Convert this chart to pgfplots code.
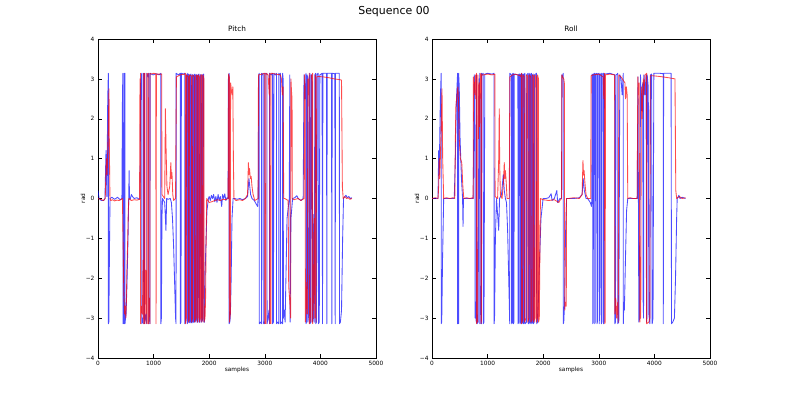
\documentclass[border=0pt]{standalone}
\usepackage{fontspec}
\setmainfont{DejaVu Sans}
\usepackage{pgfplots}
\pgfplotsset{compat=1.18}

\pgfplotsset{
  seqax/.style={
    anchor=south west, scale only axis,
    width=9.73cm, height=11.165cm,
    xmin=0, xmax=5000, ymin=-4, ymax=4,
    xtick={0,1000,2000,3000,4000,5000},
    xticklabels={0,1000,2000,3000,4000,5000},
    ytick={-4,-3,-2,-1,0,1,2,3,4},
    yticklabels={−4,−3,−2,−1,0,1,2,3,4},
    tick align=inside, major tick length=0.14cm,
    every tick/.style={black, line width=0.5pt},
    axis line style={line width=0.6pt},
    tick label style={font=\fontsize{5.8}{6}\selectfont},
    label style={font=\fontsize{5.8}{6}\selectfont},
    title style={font=\fontsize{7.3}{8}\selectfont, at={(axis description cs:0.5,1.0125)}, anchor=center},
    xlabel style={at={(axis description cs:0.5,-0.0376)}, anchor=center},
    ylabel style={at={(axis description cs:-0.054,0.5)}, anchor=center},
    xlabel=samples, ylabel=rad,
  },
  redl/.style={red, line width=0.85pt, opacity=0.7, line join=round},
  bluel/.style={blue, line width=0.85pt, opacity=0.7, line join=round},
}

\begin{document}
\begin{tikzpicture}
\path[use as bounding box] (0,0) rectangle (27.615cm,13.93cm);
\node[font=\fontsize{10.9}{13}\selectfont] at (13.79cm,13.51cm) {Sequence 00};

% ---------------- Pitch ----------------
\begin{axis}[seqax, at={(3.43cm,1.4cm)}, title=Pitch]
\addplot[bluel] coordinates {
(0,0.2)(20,0.0)(60,-0.05)(100,-0.05)(125,0.0)(144,1.2)(160,0.05)(175,2.5)(186,3.14)(187,-3.14)(195,-3.1)(205,-1.5)(216,0.0)(250,0.03)(300,-0.02)(350,0.03)(400,-0.03)(430,0.0)
(440,2.6)(448,3.14)(449,-3.14)(462,-3.0)(470,-3.14)(471,3.14)(476,2.4)(480,2.6)(485,3.14)(486,-3.14)(495,-3.0)(505,-2.9)(520,-2.2)(540,-1.0)(552,0.0)(560,0.7)(566,0.0)(580,-0.02)(600,0.1)(620,0.05)(650,0.0)(700,0.02)(740,-0.02)(755,0.0)
(768,3.0)(775,2.5)(782,3.0)(786,3.14)(787,-3.14)(800,-3.0)(815,-3.14)(816,3.14)(825,3.0)(830,2.3)(836,3.14)(837,-3.14)(860,-2.9)(876,-3.14)(877,3.14)(900,3.05)(912,3.14)(913,-3.14)(925,-2.5)(936,-3.14)(937,3.14)(990,3.1)(1050,3.13)(1100,3.1)(1130,3.14)(1131,-3.14)(1140,-3.0)(1150,-0.5)(1160,0.0)(1180,-0.05)(1200,-0.1)(1222,-0.8)(1235,0.0)(1260,-0.02)(1300,0.0)(1320,-0.1)(1340,-0.5)(1360,-1.2)(1380,-2.2)(1395,-3.0)(1404,-3.14)
(1405,3.14)(1450,3.1)(1480,3.14)(1481,-3.14)(1492,-3.1)(1500,3.14)(1540,3.12)(1560,3.14)(1561,-3.14)(1575,-3.1)(1588,3.1)(1595,0.3)(1600,0.8)(1605,3.14)(1606,-3.14)(1620,-3.1)(1625,3.12)(1640,3.1)(1643,-3.1)(1655,-3.12)(1660,3.1)(1672,3.12)(1675,-3.1)(1690,-3.12)(1694,3.1)(1708,3.1)(1711,-3.1)(1725,-3.1)(1729,3.1)(1742,3.12)(1745,-3.1)(1760,-3.05)(1764,3.1)(1778,3.1)(1781,-3.1)(1795,-3.1)(1799,3.1)(1815,3.12)(1818,-3.1)(1835,-3.1)(1839,3.1)(1858,3.1)(1861,-3.1)(1878,-3.05)(1882,3.1)(1900,3.12)(1903,-3.1)(1915,-3.1)(1920,-2.5)(1926,-1.9)(1940,-1.2)(1960,-0.3)(1986,0.0)
(2000,0.05)(2020,-0.05)(2040,0.08)(2060,0.0)(2080,0.1)(2100,-0.08)(2120,0.05)(2140,-0.1)(2160,0.1)(2180,-0.05)(2200,0.05)(2225,-0.2)(2240,0.1)(2260,0.0)(2280,0.12)(2300,-0.05)(2320,0.02)(2340,0.0)
(2346,3.1)(2352,2.7)(2358,3.14)(2359,-3.14)(2370,-3.1)(2378,-3.0)(2385,-2.7)(2395,-2.0)(2410,-0.5)(2430,0.0)
(2460,0.0)(2500,-0.02)(2550,0.0)(2600,-0.03)(2650,0.0)(2690,0.05)(2715,0.5)(2730,0.3)(2745,0.1)(2770,0.0)(2810,-0.05)(2850,-0.15)(2870,-0.2)(2880,0.0)
(2890,3.1)(2900,3.14)(2901,-3.14)(2920,-3.1)(2940,-3.14)(2941,3.14)(2960,3.1)(2970,3.14)(2971,-3.14)(2985,-3.1)(3000,-3.14)(3001,3.14)(3030,3.12)(3040,3.14)(3041,-3.14)(3060,-3.0)(3075,-2.8)(3085,-3.14)(3086,3.14)(3120,3.1)(3140,3.14)(3141,-3.14)(3155,-3.1)(3165,3.14)(3190,3.1)(3210,3.14)(3211,-3.14)(3230,-3.1)(3250,-3.14)(3251,3.14)(3270,3.1)(3280,3.14)(3281,-3.14)(3300,-3.1)(3320,-3.14)(3321,3.14)(3330,3.0)(3335,-3.0)(3350,-2.8)(3365,-3.1)(3380,-2.0)(3400,-0.5)(3440,0.0)(3450,3.1)(3455,-3.1)(3470,-0.5)(3500,0.0)
(3540,0.02)(3576,0.07)(3600,0.0)(3650,-0.05)(3690,0.0)
(3705,3.1)(3715,2.9)(3725,2.5)(3735,2.8)(3740,3.14)(3741,-3.14)(3750,-3.1)(3760,3.1)(3770,3.05)(3775,-3.1)(3790,-2.9)(3800,3.0)(3810,3.14)(3811,-3.14)(3830,-3.1)(3835,3.1)(3850,3.1)(3860,-3.1)(3870,-3.0)(3880,-0.4)(3890,-3.1)(3900,3.1)(3915,3.14)(3916,-3.14)(3930,-3.1)(3940,3.12)
(3960,3.14)(3966,-3.14)(3980,-3.1)(3990,3.1)(4030,3.14)(4038,-3.14)(4045,3.14)(4110,3.14)(4116,-3.14)(4122,3.14)(4200,3.14)(4206,-3.14)(4212,3.14)(4260,3.13)(4266,-3.14)(4272,3.14)(4340,3.14)(4344,-3.14)(4360,-3.1)(4380,-2.8)(4400,-1.0)(4416,0.0)(4440,0.05)(4460,0.08)(4480,0.02)(4510,0.05)(4540,0.0)(4566,0.02)
};
\addplot[redl] coordinates {
(0,0.0)(40,-0.02)(100,-0.05)(130,0.0)(150,1.0)(165,0.6)(185,1.8)(198,2.75)(205,1.2)(215,0.0)(230,-0.05)(260,-0.03)(300,-0.06)(340,-0.04)(380,-0.05)(420,-0.02)(440,0.0)(455,-1.5)(465,-2.4)(480,-2.9)(490,-2.7)(500,-3.0)(510,-2.6)(520,-1.8)(535,-1.0)(545,-0.3)(555,0.0)(600,-0.05)(650,-0.03)(700,-0.04)(748,-0.02)
(755,3.0)(760,2.8)(765,3.14)(766,-3.14)(780,-2.7)(800,-2.9)(810,-1.55)(815,-2.8)(825,-3.14)(826,3.14)(835,3.0)(845,3.14)(846,-3.14)(860,-1.8)(870,-2.6)(880,-3.14)(881,3.14)(895,3.1)(905,3.14)(906,-3.14)(920,-2.5)(935,-3.14)(936,3.14)(960,3.12)(1000,3.14)(1040,3.13)(1044,-3.14)(1050,3.12)(1100,3.12)(1146,3.12)(1150,0.1)(1200,0.0)(1212,2.25)(1225,1.2)(1240,0.3)(1260,0.1)(1290,0.3)(1310,0.9)(1320,0.5)(1330,0.65)(1345,0.1)(1360,-0.05)(1395,0.0)
(1410,3.05)(1480,3.1)(1560,3.12)(1575,3.14)(1576,-3.14)(1590,-3.0)(1594,3.1)(1625,3.05)(1628,-3.1)(1640,-3.05)(1644,3.1)(1680,3.08)(1683,-3.1)(1700,-3.0)(1704,3.1)(1735,3.05)(1738,-3.1)(1760,-3.0)(1764,3.1)(1785,3.08)(1788,-3.1)(1800,-3.0)(1804,3.1)(1825,3.05)(1828,-3.1)(1845,-3.0)(1849,3.1)(1865,3.1)(1868,-3.1)(1885,-3.0)(1889,3.1)(1905,3.0)(1908,-3.1)(1925,-3.0)(1935,-2.5)(1945,-1.0)(1955,0.0)
(2000,-0.1)(2050,-0.08)(2100,-0.05)(2150,-0.03)(2200,-0.05)(2250,-0.02)(2300,-0.03)(2340,0.0)
(2348,3.12)(2362,3.05)(2364,-3.1)(2380,-2.9)(2385,2.9)(2400,2.7)(2415,2.6)(2425,2.8)(2435,1.0)(2445,0.0)
(2480,-0.05)(2550,-0.03)(2600,-0.05)(2650,0.0)(2690,0.1)(2705,0.9)(2715,0.6)(2725,0.75)(2740,0.5)(2755,0.55)(2770,0.3)(2790,0.1)(2820,-0.05)(2880,0.0)
(2886,3.1)(2950,3.12)(3000,3.14)(3001,-3.14)(3010,-3.05)(3020,-3.14)(3021,3.14)(3060,3.1)(3080,2.6)(3090,3.14)(3091,-3.14)(3100,-2.6)(3110,-3.14)(3111,3.14)(3200,3.12)(3280,3.1)(3300,3.0)(3315,2.6)(3330,2.8)(3340,0.0)(3360,0.0)(3420,-0.05)(3430,-2.2)(3450,-2.6)(3465,-3.0)(3470,3.0)(3480,2.7)(3490,2.5)(3495,0.0)(3520,-0.03)(3600,0.0)(3650,-0.05)(3705,0.0)
(3714,3.1)(3725,2.8)(3730,-3.1)(3745,-2.7)(3755,-2.1)(3765,-2.9)(3775,3.0)(3785,2.6)(3800,3.14)(3801,-3.14)(3820,-2.5)(3830,-3.1)(3835,3.1)(3850,3.0)(3860,3.14)(3861,-3.14)(3880,-2.3)(3890,-0.5)(3900,-3.0)(3910,3.1)(3920,-3.1)(3935,3.05)(3960,3.06)(4050,3.05)(4150,3.03)(4250,3.0)(4350,2.98)(4380,2.97)(4395,0.3)(4410,0.0)(4440,0.05)(4470,0.0)(4500,0.02)(4530,-0.02)(4566,0.0)
};
\end{axis}

% ---------------- Roll ----------------
\begin{axis}[seqax, at={(15.12cm,1.4cm)}, title=Roll]
\addplot[bluel] coordinates {
(0,0.0)(60,0.0)(108,0.0)(120,1.2)(130,0.6)(150,2.5)(165,3.14)(166,-3.14)(175,-3.1)(190,-1.5)(210,0.0)(260,0.0)(320,0.0)(400,0.0)(420,1.0)(440,2.5)(460,3.14)(461,-3.14)(470,-2.3)(478,-3.14)(479,3.14)(490,2.8)(505,1.5)(530,0.5)(550,0.0)(558,-0.7)(566,0.0)(620,0.0)(700,0.0)(740,0.0)
(760,3.1)(770,2.9)(775,-3.0)(786,-2.6)(795,-3.1)(800,3.1)(810,-3.14)(830,-3.1)(845,3.0)(855,2.0)(860,3.14)(861,-3.14)(876,-2.2)(888,-3.14)(889,3.14)(900,3.1)(920,3.14)(921,-3.14)(935,-3.1)(950,3.12)(1000,3.14)(1080,3.12)(1116,3.14)(1117,-3.14)(1125,-3.0)(1140,-1.0)(1160,0.0)(1200,-0.8)(1215,0.0)(1250,0.1)(1282,0.6)(1300,0.2)(1320,0.0)(1340,-0.1)(1360,-0.8)(1380,-2.0)(1398,-3.14)
(1400,3.14)(1430,3.1)(1433,-3.14)(1445,-3.1)(1448,3.12)(1460,3.14)(1463,-3.14)(1475,-3.1)(1478,3.12)(1545,3.1)(1548,-3.14)(1560,-3.1)(1563,3.12)(1580,3.12)(1583,-3.14)(1595,-3.1)(1598,3.1)(1610,3.14)(1613,-3.14)(1625,-3.1)(1628,3.12)(1640,3.12)(1643,-3.14)(1655,-3.12)(1658,3.1)(1670,3.14)(1673,-3.14)(1700,-3.1)(1703,3.1)(1730,3.14)(1733,-3.14)(1748,-3.1)(1751,3.1)(1760,3.14)(1763,-3.14)(1778,-3.1)(1781,3.1)(1790,3.14)(1793,-3.14)(1805,-3.1)(1808,3.1)(1820,3.12)(1823,-3.14)(1840,-3.1)(1843,3.1)(1880,3.14)(1883,-3.14)(1900,-3.1)(1915,-2.5)(1926,-1.9)(1960,-0.5)(1998,0.0)
(2050,0.0)(2100,0.02)(2143,0.12)(2160,-0.05)(2200,0.0)(2245,0.2)(2260,-0.1)(2300,0.0)(2330,0.0)
(2336,3.1)(2350,3.05)(2360,3.14)(2361,-3.14)(2370,-3.1)(2385,-2.6)(2400,-1.0)(2420,0.0)(2470,0.0)(2550,0.0)(2650,0.02)(2700,0.1)(2720,0.5)(2740,0.2)(2770,0.0)(2800,0.0)(2847,-0.1)(2868,-0.2)(2875,0.0)
(2880,3.12)(2890,3.1)(2892,-3.14)(2900,-3.1)(2905,3.12)(2925,3.14)(2927,-3.14)(2935,-3.1)(2940,3.12)(2965,3.14)(2967,-3.14)(2975,-3.1)(2980,3.12)(3005,3.14)(3007,-3.14)(3018,-2.8)(3022,3.1)(3045,3.14)(3047,-3.14)(3055,-3.1)(3060,3.12)(3085,3.14)(3087,-3.14)(3095,-3.1)(3100,3.12)(3200,3.14)(3288,3.1)(3290,-3.14)(3300,-3.1)(3310,3.1)(3330,3.12)
(3340,3.14)(3341,-3.14)(3360,-3.1)(3378,3.1)(3400,3.0)(3420,2.6)(3440,3.14)(3441,-3.14)(3450,-2.6)(3460,-2.8)(3480,-1.5)(3500,-0.3)(3521,0.0)(3600,0.0)(3690,0.0)
(3705,3.05)(3720,-3.1)(3735,-3.0)(3750,3.1)(3770,2.2)(3790,2.9)(3798,-2.6)(3805,-3.0)(3810,3.1)(3830,2.6)(3850,3.1)(3858,-3.1)(3865,-3.0)(3870,3.1)(3890,2.8)(3900,-2.9)(3918,-3.14)(3930,3.1)(3950,3.12)(3960,-3.14)(3975,-3.0)(3990,3.14)(4100,3.14)(4158,3.13)(4160,-3.14)(4166,3.14)(4300,3.14)(4308,-3.14)(4330,-3.1)(4360,-3.0)(4380,-2.0)(4400,-0.5)(4410,0.0)(4440,0.08)(4460,0.0)(4500,0.03)(4560,0.0)
};
\addplot[redl] coordinates {
(0,0.0)(60,0.02)(108,0.0)(120,0.3)(130,1.0)(140,0.5)(160,1.5)(180,2.75)(192,1.0)(210,0.0)(260,0.02)(320,0.0)(380,0.02)(410,0.0)(420,1.5)(430,2.3)(450,2.6)(465,2.8)(475,2.5)(490,1.5)(510,1.0)(535,0.9)(555,0.3)(572,0.0)(620,0.02)(680,0.0)(730,0.02)(740,0.0)
(745,3.05)(760,2.8)(770,2.6)(780,3.1)(790,2.5)(800,3.14)(801,-3.14)(810,-3.05)(820,-3.1)(825,3.1)(830,2.0)(835,1.5)(840,2.6)(850,2.9)(855,1.8)(860,2.5)(870,3.1)(880,3.14)(881,-3.14)(890,-3.05)(895,3.1)(920,3.1)(1000,3.12)(1080,3.1)(1130,3.12)
(1135,0.05)(1180,0.0)(1200,1.0)(1210,2.25)(1218,0.8)(1230,0.1)(1260,0.0)(1285,0.4)(1300,0.9)(1310,0.5)(1320,0.7)(1335,0.4)(1350,0.0)(1390,0.0)
(1400,3.05)(1450,3.1)(1500,3.12)(1583,3.08)(1600,3.05)(1610,3.14)(1611,-3.14)(1630,-3.05)(1634,3.1)(1660,3.05)(1663,-3.1)(1690,-3.0)(1694,3.1)(1720,3.08)(1723,-3.1)(1745,-3.0)(1749,3.1)(1775,3.05)(1778,-3.1)(1800,-3.05)(1804,3.1)(1825,3.08)(1828,-3.1)(1850,-3.0)(1854,3.1)(1875,3.05)(1878,-3.1)(1895,-3.0)(1899,3.1)(1915,3.0)(1918,-3.1)(1930,-3.0)(1940,-1.5)(1950,0.0)
(2000,-0.03)(2100,-0.05)(2200,-0.03)(2280,-0.1)(2300,-0.05)(2330,0.0)
(2336,3.1)(2350,3.05)(2370,3.0)(2380,2.9)(2388,-2.8)(2400,-2.6)(2415,-2.7)(2420,0.0)
(2456,0.0)(2550,0.02)(2650,0.0)(2700,0.1)(2715,0.95)(2725,0.6)(2735,0.7)(2750,0.4)(2770,0.1)(2800,0.0)(2855,0.0)
(2862,3.08)(2900,3.1)(3000,3.12)(3080,3.05)(3089,2.5)(3100,3.0)(3105,3.14)(3106,-3.14)(3115,-3.1)(3120,3.1)(3200,3.12)(3285,3.1)(3290,-2.9)(3305,-2.5)(3320,-3.0)(3340,-2.6)(3350,-3.1)(3360,3.1)(3400,3.05)(3470,2.9)(3480,2.5)(3495,2.8)(3510,2.6)(3521,0.0)
(3560,0.02)(3620,0.0)(3690,0.0)
(3702,3.05)(3715,2.6)(3725,2.9)(3738,-3.1)(3745,-2.7)(3755,-3.0)(3765,2.8)(3780,2.0)(3790,2.6)(3800,3.0)(3810,2.6)(3830,3.1)(3860,3.14)(3861,-3.14)(3900,-3.1)(3918,-3.0)(3925,3.08)
(3960,3.08)(4100,3.06)(4250,3.03)(4370,3.0)(4385,0.2)(4400,0.0)(4450,0.05)(4500,0.0)(4560,0.02)
};
\end{axis}
\end{tikzpicture}
\end{document}
